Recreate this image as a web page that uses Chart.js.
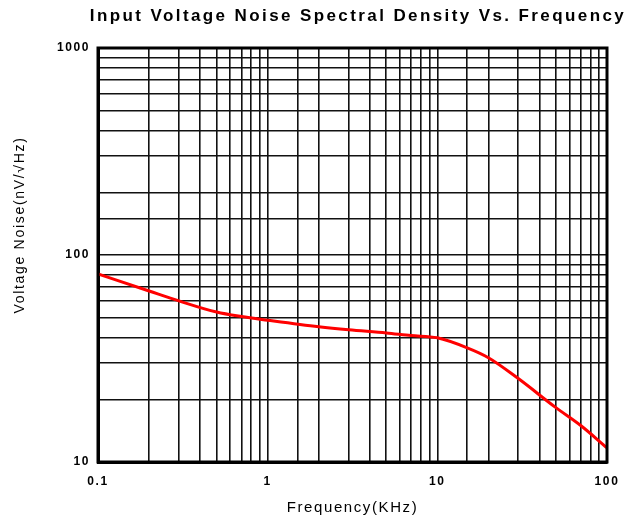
<!DOCTYPE html>
<html>
<head>
<meta charset="utf-8">
<script src="https://cdn.jsdelivr.net/npm/chart.js@4/dist/chart.umd.min.js"></script>
<style>
  html, body { margin: 0; padding: 0; background: #fff; }
  #wrap { width: 632px; height: 521px; }
</style>
</head>
<body>
<div id="wrap"><canvas id="c"></canvas></div>
<script>
// frequency in kHz and noise in nV/rtHz
const freqs = [0.1, 0.2, 0.3, 0.5, 0.7, 1, 2, 3, 5, 7, 10, 15, 20, 30, 50, 70, 100];
const noise = [81, 67, 60, 53, 50.4, 48.4, 45, 43.5, 42, 40.8, 39.8, 35.6, 31.9, 25.3, 18.3, 15, 11.7];

const chartTitle = 'Input Voltage Noise Spectral Density Vs. Frequency';
const yTitle = 'Voltage Noise(nV/\u221AHz)';

const FONT = 'Liberation Sans, Arial, sans-serif';
const isDecade = v => Math.abs(Math.log10(v) - Math.round(Math.log10(v))) < 1e-6;

// wide letter spacing like the old bitmap font, plus frame and titles
const decor = {
  id: 'decor',
  beforeDraw(chart) {
    chart.ctx.letterSpacing = '1.6px';
  },
  afterDraw(chart) {
    const { ctx, chartArea: a } = chart;
    ctx.save();
    ctx.strokeStyle = '#000';
    ctx.lineWidth = 3;
    ctx.strokeRect(a.left, a.top, a.right - a.left, a.bottom - a.top);

    ctx.fillStyle = '#000';
    ctx.textBaseline = 'middle';
    ctx.textAlign = 'center';
    ctx.letterSpacing = '2.4px';
    ctx.font = `bold 17px ${FONT}`;
    ctx.fillText(chartTitle, 358, 16);

    ctx.letterSpacing = '1.7px';
    ctx.font = `14px ${FONT}`;
    ctx.translate(20, 225);
    ctx.rotate(-Math.PI / 2);
    ctx.fillText(yTitle, 0, 0);
    ctx.restore();
  }
};

const tickFont = { family: FONT, size: 12, weight: 'bold' };

new Chart(document.getElementById('c'), {
  type: 'scatter',
  data: {
    datasets: [{
      data: freqs.map((f, i) => ({ x: f, y: noise[i] })),
      showLine: true,
      borderColor: '#ff0000',
      borderWidth: 3,
      pointRadius: 0,
      cubicInterpolationMode: 'monotone',
    }],
  },
  options: {
    responsive: true,
    maintainAspectRatio: false,
    animation: false,
    layout: { padding: { left: 0, right: 25, top: 48, bottom: 0 } },
    plugins: {
      legend: { display: false },
      tooltip: { enabled: false },
      title: { display: false },
    },
    scales: {
      x: {
        type: 'logarithmic',
        min: 0.1,
        max: 100,
        grid: { color: '#111', lineWidth: 1.6, drawTicks: false },
        border: { color: '#000', width: 3 },
        ticks: {
          autoSkip: false,
          maxRotation: 0,
          color: '#000',
          font: tickFont,
          padding: 12,
          callback: v => isDecade(v) ? String(v) : '',
        },
        title: {
          display: true,
          text: 'Frequency(KHz)',
          color: '#000',
          font: { family: FONT, size: 15 },
          padding: { top: 9, bottom: 4 },
        },
        afterFit: s => { s.height = 59; },
      },
      y: {
        type: 'logarithmic',
        min: 10,
        max: 1000,
        grid: { color: '#111', lineWidth: 1.6, drawTicks: false },
        border: { color: '#000', width: 3 },
        ticks: {
          autoSkip: false,
          color: '#000',
          font: tickFont,
          padding: 8,
          callback: v => isDecade(v) ? String(v) : '',
        },
        afterFit: s => { s.width = 98; },
      },
    },
  },
  plugins: [decor],
});
</script>
</body>
</html>
